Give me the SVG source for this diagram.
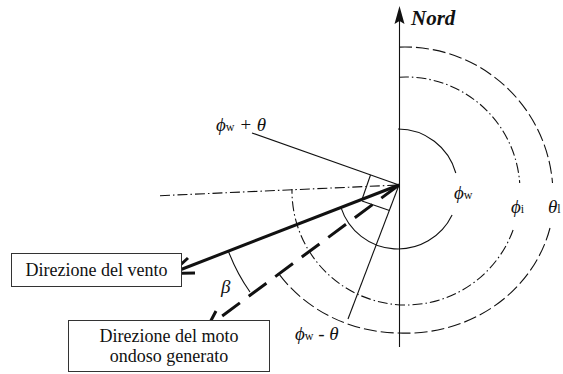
<svg xmlns="http://www.w3.org/2000/svg" width="563" height="374" viewBox="0 0 563 374">
<style>
.ln{fill:none;stroke:#111;stroke-width:1.1}
.thick{fill:none;stroke:#111;stroke-width:3;stroke-linecap:butt}
.dd{fill:none;stroke:#111;stroke-width:1.1;stroke-dasharray:10 3 1.5 3}
.ds{fill:none;stroke:#111;stroke-width:1.1;stroke-dasharray:13 4}
.box{fill:#fff;stroke:#333;stroke-width:1}
text{font-family:'Liberation Serif','Times New Roman','DejaVu Serif',serif;fill:#111}
.g{font-style:italic;font-size:19px}
.sub{font-style:normal;font-size:12px}
</style>
<rect width="563" height="374" fill="#fff"/>
<g id="connectors">
  <line class="ln" x1="399.5" y1="20" x2="399.5" y2="347"/>
  <path d="M399.5 6 L394.5 24 L399.5 21 L404.5 24 Z" fill="#111"/>
  <path class="ln" d="M398 129 A60 60 0 0 1 455.8 173 M452.1 215 A60 60 0 0 1 341 207.6"/>
  <path class="dd" d="M399 77.2 A114 114 0 0 1 519.7 183 M513.1 230 A114 114 0 0 1 292 189"/>
  <path class="ds" d="M399 47.1 A148 148 0 0 1 552.5 183 M550 228 A148 138 0 0 1 399 333 A148 138 0 0 1 279 274"/>
  <line class="dd" x1="160" y1="195.7" x2="399" y2="185"/>
  <line class="ln" x1="399" y1="185" x2="252" y2="133"/>
  <line class="ln" x1="399" y1="185" x2="348" y2="319"/>
  <line class="ln" x1="370.5" y1="175" x2="362" y2="199.5"/>
  <line class="ln" x1="362" y1="201" x2="389.5" y2="210.5"/>
  <path class="ln" d="M228.4 251.2 A183 183 0 0 0 250 292"/>
  <line class="thick" x1="399" y1="185" x2="172" y2="273"/>
  <polyline class="thick" points="188,258 171,273.5 195,273"/>
  <line class="thick" x1="399" y1="185" x2="210" y2="325" stroke-dasharray="22 11"/>
  <polyline class="thick" points="216,311 207,328 227,326"/>
</g>
<g id="label-nord"><text x="411" y="24.5" font-size="21" font-weight="bold" font-style="italic">Nord</text></g>
<g id="label-phiw-plus"><text class="g" x="216" y="131">ϕ<tspan class="sub">w</tspan> + θ</text></g>
<g id="label-phiw-minus"><text class="g" x="295" y="340">ϕ<tspan class="sub">w</tspan> - θ</text></g>
<g id="label-phiw"><text class="g" x="454" y="199">ϕ<tspan class="sub">w</tspan></text></g>
<g id="label-phii"><text class="g" x="511" y="213">ϕ<tspan class="sub">i</tspan></text></g>
<g id="label-thetal"><text class="g" x="548" y="213">θ<tspan class="sub">l</tspan></text></g>
<g id="label-beta"><text class="g" x="221" y="293">β</text></g>
<g id="box-vento">
  <rect class="box" x="11.5" y="253.5" width="170" height="33"/>
  <text x="96.5" y="276" font-size="18" text-anchor="middle">Direzione del vento</text>
</g>
<g id="box-moto">
  <rect class="box" x="68.5" y="320.5" width="201" height="51"/>
  <text x="169" y="341.5" font-size="18" text-anchor="middle">Direzione del moto</text>
  <text x="169" y="362" font-size="18" text-anchor="middle">ondoso generato</text>
</g>
</svg>
